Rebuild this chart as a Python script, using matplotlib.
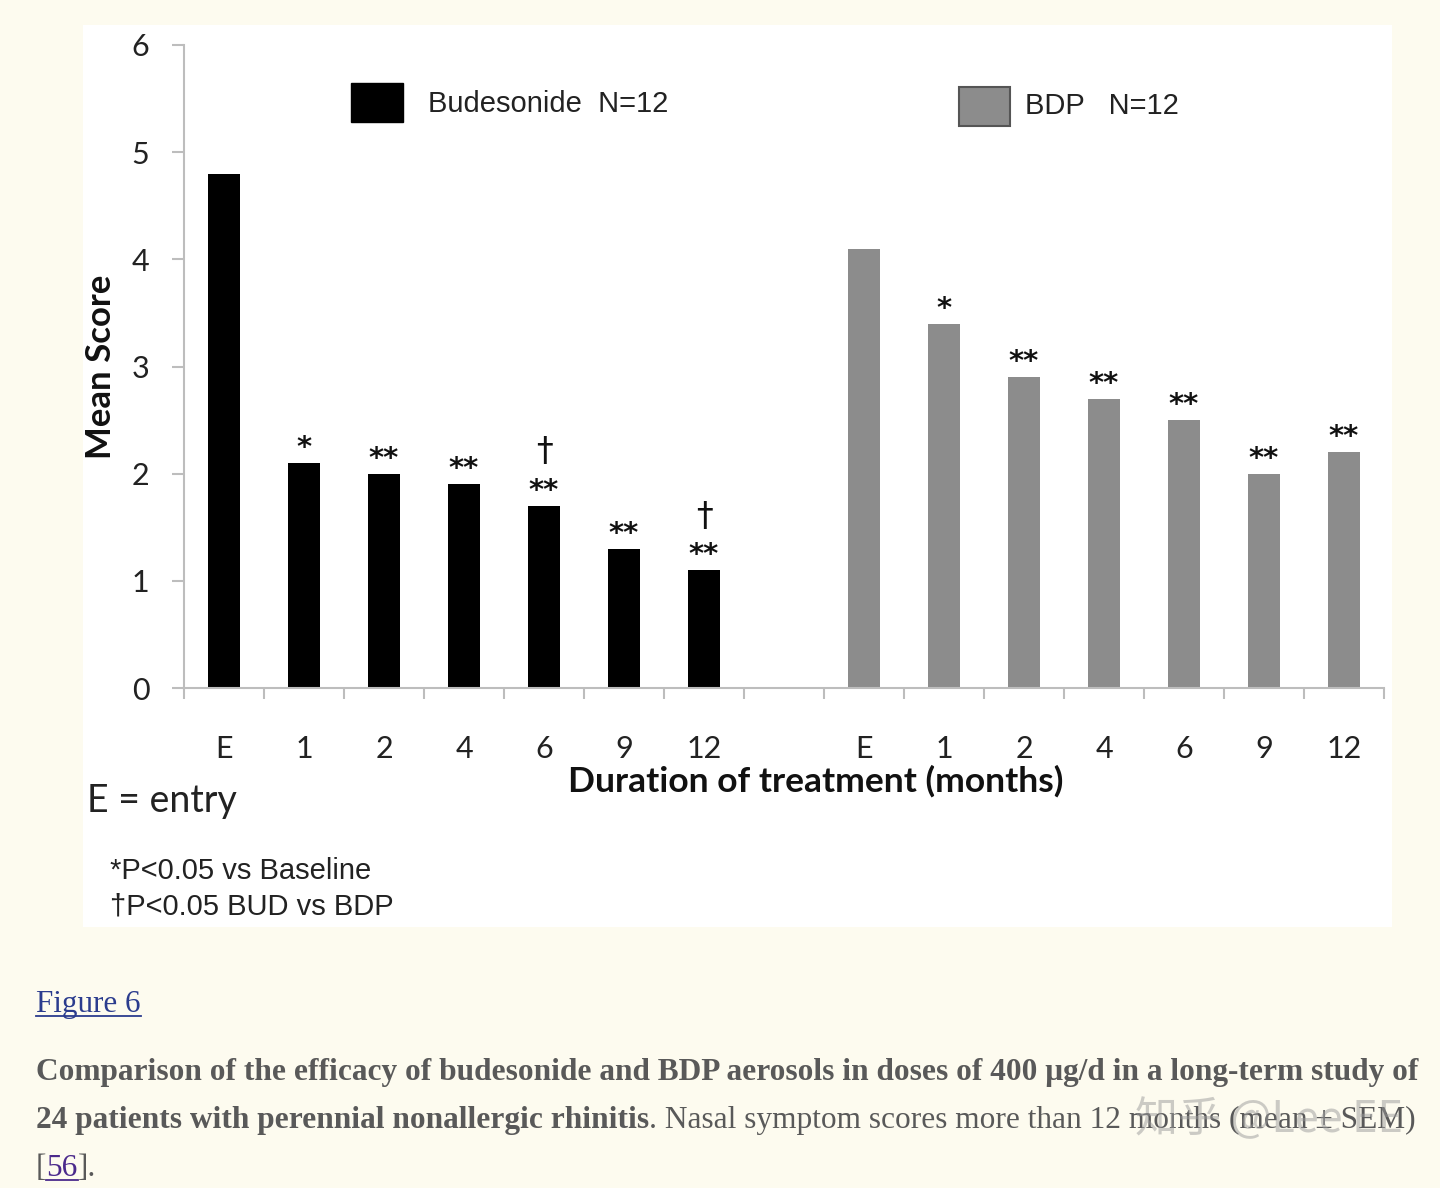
import matplotlib
matplotlib.use("Agg")
import matplotlib.pyplot as plt
from matplotlib.patches import Rectangle
from matplotlib.lines import Line2D
import numpy as np

# data
months = ['E', '1', '2', '4', '6', '9', '12']
budesonide = [4.8, 2.1, 2.0, 1.9, 1.7, 1.3, 1.1]
bdp = [4.1, 3.4, 2.9, 2.7, 2.5, 2.0, 2.2]
bud_stars = ['', '*', '**', '**', '**', '**', '**']
bud_dagger = [False, False, False, False, True, False, True]
bdp_stars = ['', '*', '**', '**', '**', '**', '**']
bdp_dagger = [False] * 7

W, H = 1440, 1188
BG = '#FDFBEF'
calibri = ['Lato', 'DejaVu Sans']
arial = ['Liberation Sans', 'DejaVu Sans']
times = ['Liberation Serif', 'DejaVu Serif']


def px(x, y):
    return x / W, 1 - y / H


fig = plt.figure(figsize=(W / 100, H / 100), dpi=100, facecolor=BG)
# white panel the chart image sits on
fig.patches.append(Rectangle(px(83, 927), (1392 - 83) / W, (927 - 25) / H,
                             transform=fig.transFigure, facecolor='white',
                             edgecolor='none', zorder=-5))

ax = fig.add_axes([184 / W, 1 - 688 / H, 1200 / W, (688 - 45) / H])
ax.set_facecolor('none')

x_bud = np.arange(len(months))
x_bdp = np.arange(len(months)) + len(months) + 1
ax.bar(x_bud, budesonide, width=0.4, color='black', zorder=2)
ax.bar(x_bdp, bdp, width=0.4, color='#8C8C8C', zorder=2)

ax.set_xlim(-0.5, 2 * len(months) + 0.5)
ax.set_ylim(0, 6)

axis_col = '#BDBDBD'
for s in ['top', 'right']:
    ax.spines[s].set_visible(False)
for s in ['left', 'bottom']:
    ax.spines[s].set_color(axis_col)
    ax.spines[s].set_linewidth(1.5)

ax.set_yticks(range(7))
ax.tick_params(axis='y', length=9, width=1.5, color=axis_col, pad=16,
               labelsize=22, labelcolor='#222222')
for lab in ax.get_yticklabels():
    lab.set_fontfamily(calibri)

ax.set_xticks(np.arange(-0.5, 2 * len(months) + 1, 1.0))
ax.set_xticklabels([])
ax.tick_params(axis='x', which='major', length=8, width=1.5, color=axis_col)
ax.set_xticks(list(x_bud) + list(x_bdp), minor=True)
ax.set_xticklabels(months + months, minor=True)
ax.tick_params(axis='x', which='minor', length=0, pad=34, labelsize=22,
               labelcolor='#222222')
for lab in ax.get_xticklabels(minor=True):
    lab.set_fontfamily(calibri)

# significance markers
for xs, vals, stars, dags in [(x_bud, budesonide, bud_stars, bud_dagger),
                              (x_bdp, bdp, bdp_stars, bdp_dagger)]:
    for xi, v, st, dg in zip(xs, vals, stars, dags):
        if st:
            ax.annotate(st, (xi, v), xytext=(0, 5), textcoords='offset points',
                        ha='center', va='baseline', fontsize=21,
                        fontweight='bold', family=['DejaVu Sans'],
                        color='#111111')
        if dg:
            ax.annotate('\u2020', (xi, v), xytext=(0, 32),
                        textcoords='offset points', ha='center', va='baseline',
                        fontsize=24, family=['DejaVu Sans'], color='#111111')

# legend drawn as in the original
fig.patches.append(Rectangle(px(351, 122), 52 / W, 39 / H,
                             transform=fig.transFigure, facecolor='black',
                             edgecolor='black', zorder=3))
fig.text(*px(428, 104), 'Budesonide  N=12', family=arial, fontsize=21,
         va='center', ha='left', color='#222222')
fig.patches.append(Rectangle(px(959, 126), 51 / W, 39 / H,
                             transform=fig.transFigure, facecolor='#8C8C8C',
                             edgecolor='#555555', linewidth=1.5, zorder=3))
fig.text(*px(1025, 106), 'BDP   N=12', family=arial, fontsize=21,
         va='center', ha='left', color='#222222')

fig.text(*px(101, 367), 'Mean Score', family=calibri, fontweight='bold',
         fontsize=25, rotation=90, ha='center', va='center', color='#111111')
fig.text(*px(816, 781), 'Duration of treatment (months)', family=calibri,
         fontweight='bold', fontsize=25.5, ha='center', va='center',
         color='#111111')
fig.text(*px(87, 801), 'E = entry', family=calibri, fontsize=27,
         ha='left', va='center', color='#222222')
fig.text(*px(110, 871), '*P<0.05 vs Baseline', family=arial, fontsize=21,
         ha='left', va='center', color='#222222')
fig.text(*px(110, 907), '\u2020P<0.05 BUD vs BDP', family=arial, fontsize=21,
         ha='left', va='center', color='#222222')

# caption below the figure
renderer = fig.canvas.get_renderer()
link = '#2B3C8E'
cap = '#595959'
cs = 22.6
t = fig.text(*px(36, 1012), 'Figure 6', family=times, fontsize=22.3,
             ha='left', va='baseline', color=link)
bb = t.get_window_extent(renderer)
fig.add_artist(Line2D([bb.x0 / W, bb.x1 / W], [1 - 1016 / H] * 2,
                      transform=fig.transFigure, color=link, linewidth=1.3))

fig.text(*px(36, 1080), 'Comparison of the efficacy of budesonide and BDP '
         'aerosols in doses of 400 \u03bcg/d in a long-term study of',
         family=times, fontsize=cs, fontweight='bold', ha='left',
         va='baseline', color=cap)
t2 = fig.text(*px(36, 1128), '24 patients with perennial nonallergic rhinitis',
              family=times, fontsize=cs, fontweight='bold', ha='left',
              va='baseline', color=cap)
bb2 = t2.get_window_extent(renderer)
fig.text(bb2.x1 / W, 1 - 1128 / H,
         '. Nasal symptom scores more than 12 months (mean \u00b1 SEM)',
         family=times, fontsize=cs, ha='left', va='baseline', color=cap)
t3 = fig.text(*px(36, 1176), '[', family=times, fontsize=cs, ha='left',
              va='baseline', color=cap)
bb3 = t3.get_window_extent(renderer)
t4 = fig.text(bb3.x1 / W, 1 - 1176 / H, '56', family=times, fontsize=cs,
              ha='left', va='baseline', color='#4B2A8C')
bb4 = t4.get_window_extent(renderer)
fig.add_artist(Line2D([bb4.x0 / W, bb4.x1 / W], [1 - 1180 / H] * 2,
                      transform=fig.transFigure, color='#4B2A8C',
                      linewidth=1.3))
fig.text(bb4.x1 / W, 1 - 1176 / H, '].', family=times, fontsize=cs,
         ha='left', va='baseline', color=cap)

# watermark
fig.text(*px(1135, 1120), '知乎 @Lee EE', family=['Noto Sans CJK SC', 'DejaVu Sans'],
         fontsize=31, ha='left', va='center', color='#9A9A9A', alpha=0.5)

fig.savefig('out.png', dpi=100, facecolor=BG)
